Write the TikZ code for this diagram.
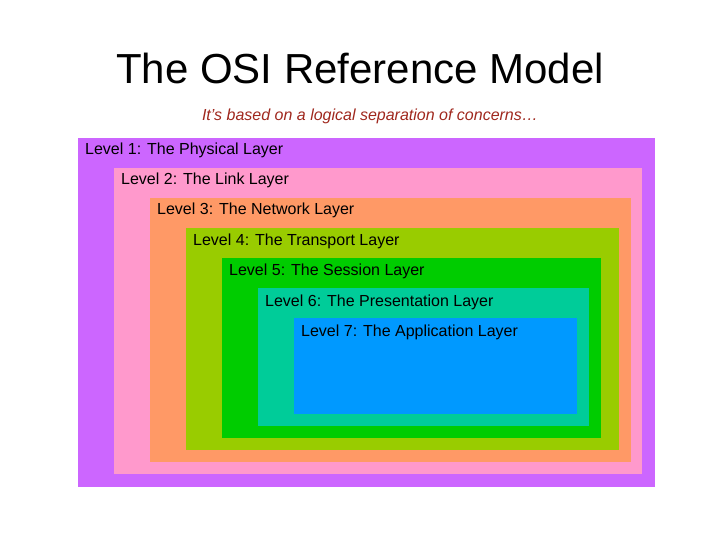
\documentclass[tikz,border=0pt]{standalone}
\usepackage{fontspec}
\setmainfont{Liberation Sans}
\usetikzlibrary{positioning}
\definecolor{lvlone}{HTML}{CC66FF}
\definecolor{lvltwo}{HTML}{FF99CC}
\definecolor{lvlthree}{HTML}{FF9966}
\definecolor{lvlfour}{HTML}{99CC00}
\definecolor{lvlfive}{HTML}{00CC00}
\definecolor{lvlsix}{HTML}{00CC99}
\definecolor{lvlseven}{HTML}{0099FF}
\definecolor{subred}{HTML}{A0281E}
\tikzset{
    layer/.style={anchor=north west, inner sep=0pt},
    lbl/.style={anchor=north west, inner sep=0pt, font=\fontsize{16}{18}\selectfont, text=black}
}
\begin{document}
\begin{tikzpicture}[x=1pt, y=-1pt]
    \useasboundingbox (0,0) rectangle (720,540);
    \fill[white] (0,0) rectangle (720,540);
    \node (title) at (360,68) {\fontsize{42}{48}\selectfont The OSI Reference Model};
    \node[text=subred] (sub) at (370,116) {\fontsize{16}{18}\selectfont\itshape It’s based on a logical separation of concerns…};
    \fill[lvlone]   (78,138)  rectangle (655,487);
    \fill[lvltwo]   (114,168) rectangle (642,474);
    \fill[lvlthree] (150,198) rectangle (631,462);
    \fill[lvlfour]  (186,228) rectangle (619,450);
    \fill[lvlfive]  (222,258) rectangle (601,438);
    \fill[lvlsix]   (258,288) rectangle (589,426);
    \fill[lvlseven] (294,318) rectangle (577,414);
    \node[lbl] (l1) at (85,143)  {Level 1: The Physical Layer};
    \node[lbl] (l2) at (121,173) {Level 2: The Link Layer};
    \node[lbl] (l3) at (157,203) {Level 3: The Network Layer};
    \node[lbl] (l4) at (193,234) {Level 4: The Transport Layer};
    \node[lbl] (l5) at (229,264) {Level 5: The Session Layer};
    \node[lbl] (l6) at (265,295) {Level 6: The Presentation Layer};
    \node[lbl] (l7) at (301,325) {Level 7: The Application Layer};
\end{tikzpicture}
\end{document}
